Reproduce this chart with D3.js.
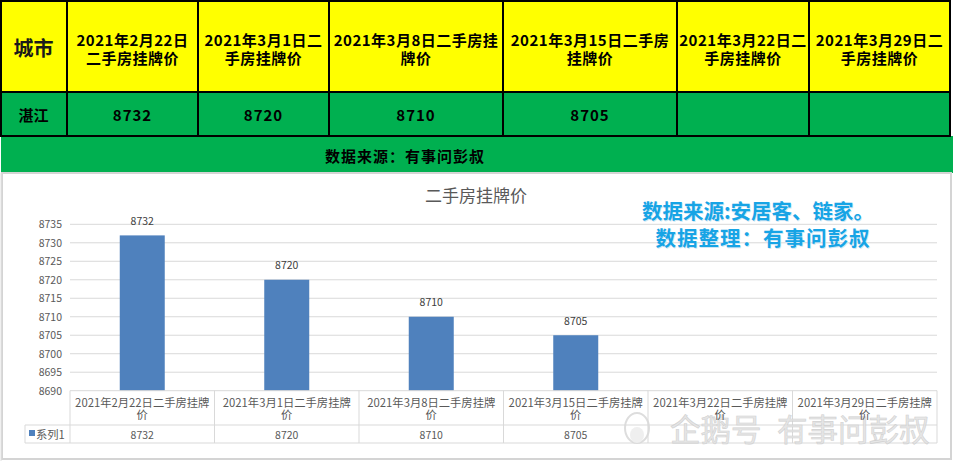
<!DOCTYPE html>
<html><head><meta charset="utf-8">
<script src="https://cdn.jsdelivr.net/npm/d3@7"></script>
<style>
html,body{margin:0;padding:0;background:#fff;}
svg{display:block;}
</style></head>
<body>
<script>
// ---- data ----
const cityLabel = "城市";
const cityName = "湛江";
const categories = ["2021年2月22日二手房挂牌价","2021年3月1日二手房挂牌价","2021年3月8日二手房挂牌价","2021年3月15日二手房挂牌价","2021年3月22日二手房挂牌价","2021年3月29日二手房挂牌价"];
const headerLines = [["2021年2月22日","二手房挂牌价"],["2021年3月1日二","手房挂牌价"],["2021年3月8日二手房挂","牌价"],["2021年3月15日二手房","挂牌价"],["2021年3月22日二","手房挂牌价"],["2021年3月29日二","手房挂牌价"]];
const values = [8732, 8720, 8710, 8705, null, null];
const yTicks = [8690, 8695, 8700, 8705, 8710, 8715, 8720, 8725, 8730, 8735];
const seriesName = "系列1";
const chartTitle = "二手房挂牌价";
const sourceText = "数据来源：有事问彭叔";
const noteLines = ["数据来源:安居客、链家。", "数据整理：有事问彭叔"];
const watermark = "企鹅号 有事问彭叔";
const headerColEdges = [0, 67, 198, 329, 503, 677, 809, 950];

(function(){
const W = 953, H = 461;
const svg = d3.select("body").append("svg").attr("width", W).attr("height", H);
const CJK = "'Noto Sans CJK SC','Noto Sans',sans-serif";

const meas = svg.append("text").attr("font-family", CJK).attr("visibility","hidden");
function wrap(str, maxW, size, weight) {
  meas.attr("font-size", size).attr("font-weight", weight || "normal");
  const lines = []; let cur = "";
  for (const ch of str) {
    meas.text(cur + ch);
    if (meas.node().getComputedTextLength() > maxW && cur) { lines.push(cur); cur = ch; }
    else cur += ch;
  }
  if (cur) lines.push(cur);
  return lines;
}

// ---- top table ----
const tbl = svg.append("g");
const hdrY0 = 1, hdrY1 = 92, rowY1 = 136, srcY1 = 173;
tbl.append("rect").attr("x",0).attr("y",0).attr("width",951).attr("height",hdrY1).attr("fill","#ffff00");
tbl.append("rect").attr("x",0).attr("y",hdrY1).attr("width",951).attr("height",rowY1-hdrY1).attr("fill","#00b050");
tbl.append("rect").attr("x",1).attr("y",rowY1).attr("width",952).attr("height",srcY1-rowY1).attr("fill","#00b050");
const bl = tbl.append("g").attr("stroke","#000").attr("stroke-width",2);
headerColEdges.forEach(x => bl.append("line").attr("x1",x+(x===0?1:0)).attr("x2",x+(x===0?1:0)).attr("y1",0).attr("y2",rowY1));
[hdrY0, hdrY1, rowY1].forEach(y => bl.append("line").attr("x1",0).attr("x2",951).attr("y1",y).attr("y2",y));

tbl.append("text").attr("x", (headerColEdges[0]+headerColEdges[1])/2).attr("y", 47).attr("text-anchor","middle").attr("dominant-baseline","central")
  .attr("font-family", CJK).attr("font-size", 20).attr("font-weight","bold").attr("fill","#1a1a1a").text(cityLabel);
headerLines.forEach((lines, j) => {
  const i = j + 1;
  const cx = (headerColEdges[i] + headerColEdges[i+1]) / 2;
  const lh = 18, startY = 48.5 - (lines.length-1)*lh/2;
  lines.forEach((ln, k) => tbl.append("text").attr("x", cx).attr("y", startY + k*lh)
    .attr("text-anchor","middle").attr("dominant-baseline","central")
    .attr("font-family", CJK).attr("font-size", 15).attr("font-weight","bold").attr("letter-spacing", 0.5)
    .attr("fill","#000").text(ln));
});
const rowVals = [cityName].concat(values.map(v => v == null ? "" : String(v)));
rowVals.forEach((t, i) => {
  const cx = (headerColEdges[i] + headerColEdges[i+1]) / 2;
  tbl.append("text").attr("x", cx).attr("y", 114.5).attr("text-anchor","middle").attr("dominant-baseline","central")
    .attr("font-family", CJK).attr("font-size", 15).attr("font-weight","bold").attr("letter-spacing", i ? 1 : 0)
    .attr("fill","#000").text(t);
});
tbl.append("text").attr("x", 405).attr("y", 155).attr("text-anchor","middle").attr("dominant-baseline","central")
  .attr("font-family", CJK).attr("font-size", 15).attr("font-weight","bold").attr("letter-spacing", 1).attr("fill","#000").text(sourceText);

// ---- chart panel ----
const panel = svg.append("g");
panel.append("rect").attr("x",2).attr("y",srcY1).attr("width",949).attr("height",286).attr("fill","#fff")
  .attr("stroke","#d4d4d4").attr("stroke-width",2);
panel.append("line").attr("x1",1).attr("x2",1).attr("y1",srcY1).attr("y2",H).attr("stroke","#e0e0e0");

panel.append("text").attr("x", 476).attr("y", 194).attr("text-anchor","middle").attr("dominant-baseline","central")
  .attr("font-family", CJK).attr("font-size", 17).attr("fill","#595959").text(chartTitle);

const plotL = 70, plotR = 937, plotT = 224.3, plotB = 390.7;
const x = d3.scaleBand().domain(categories).range([plotL, plotR]).paddingInner(0).paddingOuter(0);
const y = d3.scaleLinear().domain([8690, 8735]).range([plotB, plotT]);

panel.append("g").selectAll("line").data(yTicks.slice(1)).join("line")
  .attr("x1", plotL).attr("x2", plotR).attr("y1", d => y(d)).attr("y2", d => y(d))
  .attr("stroke", "#d9d9d9").attr("stroke-width", 1);

const yAxis = d3.axisLeft(y).tickValues(yTicks).tickSize(0).tickPadding(8).tickFormat(d3.format("d"));
const ya = panel.append("g").attr("transform", `translate(${plotL},0)`).call(yAxis);
ya.select(".domain").remove();
ya.selectAll("text").attr("font-family", CJK).attr("font-size", 10.5).attr("fill", "#595959");

const bw = 45;
const bars = values.map((v, i) => ({c: categories[i], v})).filter(d => d.v != null);
panel.append("g").selectAll("rect").data(bars).join("rect")
  .attr("x", d => x(d.c) + x.bandwidth()/2 - bw/2).attr("width", bw)
  .attr("y", d => y(d.v)).attr("height", d => y(8690) - y(d.v)).attr("fill", "#4f81bd");
panel.append("g").selectAll("text").data(bars).join("text")
  .attr("x", d => x(d.c) + x.bandwidth()/2).attr("y", d => y(d.v) - 15)
  .attr("text-anchor","middle").attr("dominant-baseline","central")
  .attr("font-family", CJK).attr("font-size", 10.5).attr("fill", "#404040").text(d => d.v);

const tY0 = plotB, tY1 = 425, tY2 = 443, legL = 25;
const tl = panel.append("g").attr("stroke", "#d9d9d9").attr("stroke-width", 1);
tl.append("line").attr("x1", plotL).attr("x2", plotR).attr("y1", tY0).attr("y2", tY0);
tl.append("line").attr("x1", legL).attr("x2", plotR).attr("y1", tY1).attr("y2", tY1);
tl.append("line").attr("x1", legL).attr("x2", plotR).attr("y1", tY2).attr("y2", tY2);
tl.append("line").attr("x1", legL).attr("x2", legL).attr("y1", tY1).attr("y2", tY2);
categories.concat([null]).forEach((c) => {
  const xx = c ? x(c) : plotR;
  tl.append("line").attr("x1", xx).attr("x2", xx).attr("y1", tY0).attr("y2", tY2);
});

// watermark (under the table text)
const wm = panel.append("g").attr("opacity", 0.9);
wm.append("ellipse").attr("cx", 637).attr("cy", 428).attr("rx", 12).attr("ry", 15).attr("fill","none").attr("stroke","#dadada").attr("stroke-width",2);
wm.append("ellipse").attr("cx", 637).attr("cy", 435).attr("rx", 7).attr("ry", 8).attr("fill","#eeeeee");
const wmParts = watermark.split(" ");
const wmX = [670, 777];
wmParts.forEach((p, i) => wm.append("text").attr("x", wmX[i]).attr("y", 428).attr("dominant-baseline","central")
  .attr("font-family", CJK).attr("font-size", 30.5).attr("fill","#e4e4e4").attr("stroke","#cdcdcd").attr("stroke-width",0.6)
  .text(p));

categories.forEach((c, i) => {
  const cx = x(c) + x.bandwidth()/2;
  const lines = wrap(c, x.bandwidth() - 7, 11.3);
  lines.forEach((ln, k) => panel.append("text").attr("x", cx).attr("y", 402 + k*11.5)
    .attr("text-anchor","middle").attr("dominant-baseline","central")
    .attr("font-family", CJK).attr("font-size", 11.3).attr("fill", "#595959").text(ln));
  panel.append("text").attr("x", cx).attr("y", 434).attr("text-anchor","middle").attr("dominant-baseline","central")
    .attr("font-family", CJK).attr("font-size", 10.5).attr("fill", "#595959").text(values[i] == null ? "" : values[i]);
});
panel.append("rect").attr("x", 29).attr("y", 430).attr("width", 6).attr("height", 6).attr("fill", "#4f81bd");
panel.append("text").attr("x", 36).attr("y", 434).attr("dominant-baseline","central")
  .attr("font-family", CJK).attr("font-size", 11.3).attr("fill", "#595959").text(seriesName);

const noteY = [210, 237], noteX = [758, 763], noteLS = [0, 1];
noteLines.forEach((t, i) => {
  panel.append("text").attr("x", noteX[i]+0.8).attr("y", noteY[i]+0.8).attr("text-anchor","middle").attr("dominant-baseline","central")
    .attr("font-family", CJK).attr("font-size", 20.5).attr("font-weight","bold").attr("letter-spacing", noteLS[i]).attr("fill","#cfe8f5").text(t);
  panel.append("text").attr("x", noteX[i]).attr("y", noteY[i]).attr("text-anchor","middle").attr("dominant-baseline","central")
    .attr("font-family", CJK).attr("font-size", 20.5).attr("font-weight","bold").attr("letter-spacing", noteLS[i]).attr("fill","#17a4e5").text(t);
});
meas.remove();
})();
</script>
</body></html>
